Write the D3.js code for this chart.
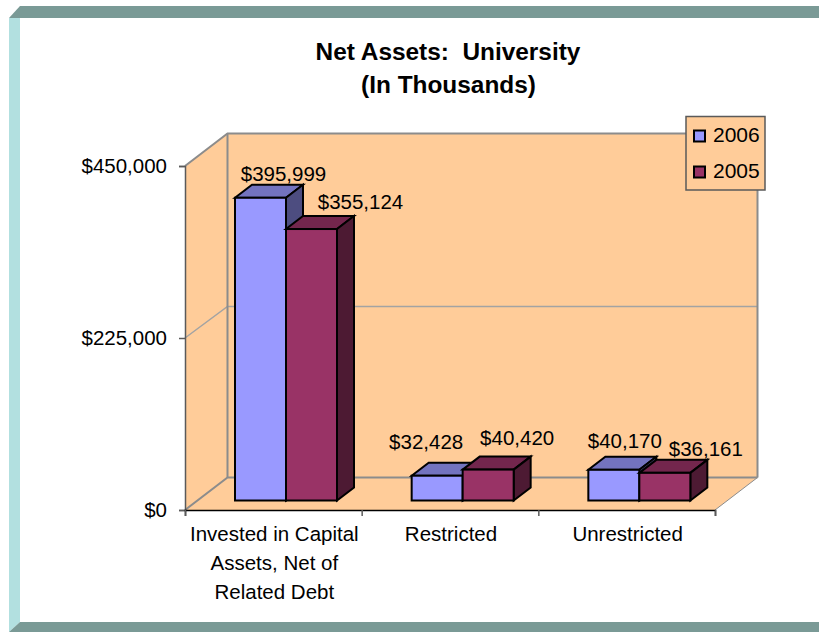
<!DOCTYPE html>
<html>
<head>
<meta charset="utf-8">
<script src="https://cdn.jsdelivr.net/npm/d3@7"></script>
<style>
html, body { margin: 0; padding: 0; background: #fff; overflow: hidden; }
text { font-family: "Liberation Sans", Arial, sans-serif; fill: #000; }
</style>
</head>
<body>
<div id="chart"></div>
<script>
var categories = ["Invested in Capital Assets, Net of Related Debt", "Restricted", "Unrestricted"];
var categoryLines = [["Invested in Capital", "Assets, Net of", "Related Debt"], ["Restricted"], ["Unrestricted"]];
var seriesNames = ["2006", "2005"];
var values2006 = [395999, 32428, 40170];
var values2005 = [355124, 40420, 36161];
var yTicks = [0, 225000, 450000];

var colors = {"2006": ["#9999ff", "#7373bf", "#4d4d80"], "2005": ["#993366", "#73264d", "#4d1a33"]};
var fontSize = 20.5;

// the labels were dragged by hand in the original, so each has its own nudge from its bar
var labelNudge = {
    "2006": [[23, -16.5], [-11, -27], [11, -22]],
    "2005": [[49, -20], [29, -25], [41, -17]]
};

var width = 819, height = 633;
var svg = d3.select("#chart").append("svg")
    .attr("width", width)
    .attr("height", height)
    .style("display", "block");

function poly(g, pts, fill, stroke, sw) {
    return g.append("polygon")
        .attr("points", pts.map(function(p) { return p.join(","); }).join(" "))
        .attr("fill", fill)
        .attr("stroke", stroke || "none")
        .attr("stroke-width", sw || 0)
        .attr("stroke-linejoin", "miter");
}

// slide frame
poly(svg, [[9, 18], [20, 6], [819, 6], [819, 18]], "#7a9a96");
poly(svg, [[9, 18], [20, 18], [20, 622], [9, 632]], "#b2e0e0");
poly(svg, [[9, 632], [20, 622], [819, 622], [819, 632]], "#7a9a96");

var x0 = d3.scaleBand().domain(categories).range([185, 715]);
var x1 = d3.scaleBand().domain(seriesNames).range([50, 152]);
var y = d3.scaleLinear().domain([0, 450000]).range([510, 166]);

// 3d offsets
var wallDx = 42.5, wallDy = 32.5;
var barDx = 17, barDy = 13;
var barLift = 9.5;

var plot = svg.append("g");
var wallFill = "#ffcc99", wallLine = "#8c8c8c";

// floor, side wall, back wall
poly(plot, [[x0.range()[0], y(0)], [x0.range()[1], y(0)], [x0.range()[1] + wallDx, y(0) - wallDy], [x0.range()[0] + wallDx, y(0) - wallDy]], wallFill);
poly(plot, [[x0.range()[0], y(0)], [x0.range()[0] + wallDx, y(0) - wallDy], [x0.range()[0] + wallDx, y(450000) - wallDy], [x0.range()[0], y(450000)]], wallFill);
plot.append("rect")
    .attr("x", x0.range()[0] + wallDx)
    .attr("y", y(450000) - wallDy)
    .attr("width", x0.range()[1] - x0.range()[0])
    .attr("height", y(0) - y(450000))
    .attr("fill", wallFill);

// gridlines + wall edges
function wallLineAt(v, w, dy, color) {
    plot.append("polyline")
        .attr("points", [[x0.range()[0], y(v)], [x0.range()[0] + wallDx, y(v) - dy], [x0.range()[1] + wallDx, y(v) - dy]].join(" "))
        .attr("fill", "none")
        .attr("stroke", color)
        .attr("stroke-width", w);
}
wallLineAt(0, 2, wallDy, wallLine);
wallLineAt(225000, 1.5, wallDy - 1, "#a3a3a3");
wallLineAt(450000, 2, wallDy, wallLine);
plot.append("line")
    .attr("x1", x0.range()[0] + wallDx).attr("x2", x0.range()[0] + wallDx)
    .attr("y1", y(450000) - wallDy).attr("y2", y(0) - wallDy)
    .attr("stroke", wallLine).attr("stroke-width", 2);
plot.append("line")
    .attr("x1", x0.range()[1] + wallDx).attr("x2", x0.range()[1] + wallDx)
    .attr("y1", y(450000) - wallDy).attr("y2", y(0) - wallDy)
    .attr("stroke", wallLine).attr("stroke-width", 2);
plot.append("line")
    .attr("x1", x0.range()[1]).attr("x2", x0.range()[1] + wallDx)
    .attr("y1", y(0)).attr("y2", y(0) - wallDy)
    .attr("stroke", wallLine).attr("stroke-width", 1);

// axes
var yAxis = d3.axisLeft(y).tickValues(yTicks).tickSize(6).tickPadding(12)
    .tickFormat(function(d) { return "$" + d3.format(",")(d); });
var yG = svg.append("g").attr("transform", "translate(" + x0.range()[0] + ",0)").call(yAxis);
yG.select(".domain").attr("stroke", "#5a5a5a").attr("stroke-width", 1.5);
yG.selectAll(".tick line").attr("stroke", "#5a5a5a").attr("stroke-width", 1.5);
yG.selectAll("text").style("font-size", fontSize + "px").style("font-family", '"Liberation Sans", Arial, sans-serif').attr("fill", "#000");

var xScaleTicks = x0.domain().map(function(d) { return x0(d); }).concat([x0.range()[1]]);
var xAxis = d3.axisBottom(d3.scaleLinear().domain(x0.range()).range(x0.range()))
    .tickValues(xScaleTicks).tickSize(6).tickFormat("");
var xG = svg.append("g").attr("transform", "translate(0," + y(0) + ")").call(xAxis);
xG.select(".domain").attr("stroke", "#000").attr("stroke-width", 1.5);
xG.selectAll(".tick line").attr("stroke", "#5a5a5a").attr("stroke-width", 1.5);

// category labels
categoryLines.forEach(function(lines, i) {
    var t = svg.append("text")
        .attr("text-anchor", "middle")
        .style("font-size", fontSize + "px");
    lines.forEach(function(line, j) {
        t.append("tspan")
            .attr("x", x0(categories[i]) + x0.bandwidth() / 2 + 1)
            .attr("y", 541 + j * 29)
            .text(line);
    });
});

// bars
function drawBar(name, value, cat) {
    var c = colors[name];
    var g = svg.append("g");
    var left = x0(cat) + x1(name);
    var right = left + x1.bandwidth();
    var bottom = y(0) - barLift;
    var top = y(value) - barLift;
    poly(g, [[left, top], [left + barDx, top - barDy], [right + barDx, top - barDy], [right, top]], c[1], "#000", 2);
    poly(g, [[right, top], [right + barDx, top - barDy], [right + barDx, bottom - barDy], [right, bottom]], c[2], "#000", 2);
    g.append("rect")
        .attr("x", left).attr("y", top)
        .attr("width", x1.bandwidth()).attr("height", bottom - top)
        .attr("fill", c[0]).attr("stroke", "#000").attr("stroke-width", 2);
}
var seriesValues = {"2006": values2006, "2005": values2005};
categories.forEach(function(cat, i) {
    seriesNames.forEach(function(name) { drawBar(name, seriesValues[name][i], cat); });
});

// value labels
categories.forEach(function(cat, i) {
    seriesNames.forEach(function(name) {
        var v = seriesValues[name][i];
        var nudge = labelNudge[name][i];
        svg.append("text")
            .attr("x", x0(cat) + x1(name) + x1.bandwidth() / 2 + nudge[0])
            .attr("y", y(v) - barLift + nudge[1])
            .attr("text-anchor", "middle")
            .style("font-size", fontSize + "px")
            .text("$" + d3.format(",")(v));
    });
});

// title
svg.append("text").attr("x", 448).attr("y", 60).attr("text-anchor", "middle")
    .style("font-size", "24.4px").style("font-weight", "bold").style("white-space", "pre").text("Net Assets:  University");
svg.append("text").attr("x", 448.5).attr("y", 93).attr("text-anchor", "middle")
    .style("font-size", "24.4px").style("font-weight", "bold").text("(In Thousands)");

// legend
var legend = svg.append("g");
legend.append("rect").attr("x", 686).attr("y", 116.5).attr("width", 79).attr("height", 73.5)
    .attr("fill", wallFill).attr("stroke", "#5a5a5a").attr("stroke-width", 1.5);
seriesNames.forEach(function(name, i) {
    legend.append("rect").attr("x", 694).attr("y", 130.5 + i * 36).attr("width", 11).attr("height", 11)
        .attr("fill", colors[name][0]).attr("stroke", "#000").attr("stroke-width", 2);
    legend.append("text").attr("x", 713).attr("y", 142 + i * 36)
        .style("font-size", "21px").text(name);
});
</script>
</body>
</html>
